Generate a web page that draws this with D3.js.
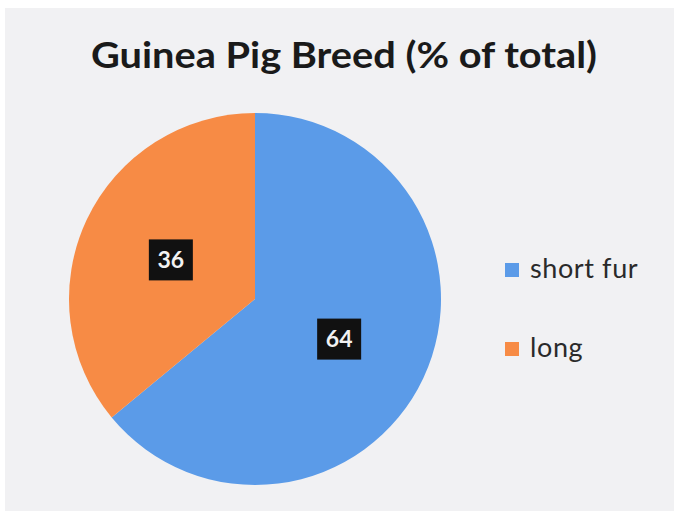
<!DOCTYPE html>
<html>
<head>
<meta charset="utf-8">
<script src="https://cdn.jsdelivr.net/npm/d3@7"></script>
<style>
  html, body { margin: 0; padding: 0; background: #ffffff; }
  svg { display: block; }
</style>
</head>
<body>
<svg id="chart" width="674" height="515"></svg>
<script>
const title = "Guinea Pig Breed (% of total)";
const categories = ["short fur", "long"];
const values = [64, 36];
const colors = ["#5b9be8", "#f78b45"];

const svg = d3.select("#chart");
const W = 674, H = 515;

svg.append("rect").attr("x", 0).attr("y", 0).attr("width", W).attr("height", H).attr("fill", "#ffffff");
svg.append("rect").attr("x", 5).attr("y", 8).attr("width", W - 5).attr("height", H - 12).attr("fill", "#f1f1f3");

svg.append("text")
  .attr("x", 344).attr("y", 68)
  .attr("text-anchor", "middle")
  .attr("font-family", "Lato, 'Open Sans', sans-serif")
  .attr("font-weight", "bold")
  .attr("font-size", 36)
  .attr("textLength", 506)
  .attr("lengthAdjust", "spacingAndGlyphs")
  .attr("fill", "#1a1a1a")
  .text(title);

const cx = 255, cy = 299, r = 186;
const pie = d3.pie().sort(null).value(d => d.value);
const data = categories.map((c, i) => ({ name: c, value: values[i], color: colors[i] }));
const arcs = pie(data);
const arc = d3.arc().innerRadius(0).outerRadius(r);
const labelArc = d3.arc().innerRadius(r * 0.5).outerRadius(r * 0.5);

const g = svg.append("g").attr("transform", `translate(${cx},${cy})`);
g.selectAll("path").data(arcs).enter().append("path")
  .attr("d", arc)
  .attr("fill", d => d.data.color);

const lab = g.selectAll("g.lab").data(arcs).enter().append("g")
  .attr("class", "lab")
  .attr("transform", d => `translate(${labelArc.centroid(d)})`);
lab.append("rect")
  .attr("x", -22).attr("y", -20).attr("width", 44).attr("height", 41)
  .attr("fill", "#111111");
lab.append("text")
  .attr("text-anchor", "middle")
  .attr("dy", "0.36em")
  .attr("font-family", "Lato, 'Open Sans', sans-serif")
  .attr("font-weight", "bold")
  .attr("font-size", 23)
  .attr("fill", "#f2f2f2")
  .text(d => d.data.value);

const leg = svg.selectAll("g.leg").data(data).enter().append("g")
  .attr("class", "leg")
  .attr("transform", (d, i) => `translate(505,${263 + i * 79})`);
leg.append("rect").attr("width", 14).attr("height", 14).attr("fill", d => d.color);
leg.append("text")
  .attr("x", 25).attr("y", 15)
  .attr("font-family", "Lato, 'Open Sans', sans-serif")
  .attr("font-size", 27)
  .attr("letter-spacing", 0.6)
  .attr("fill", "#2a2a2a")
  .text(d => d.name);
</script>
</body>
</html>
